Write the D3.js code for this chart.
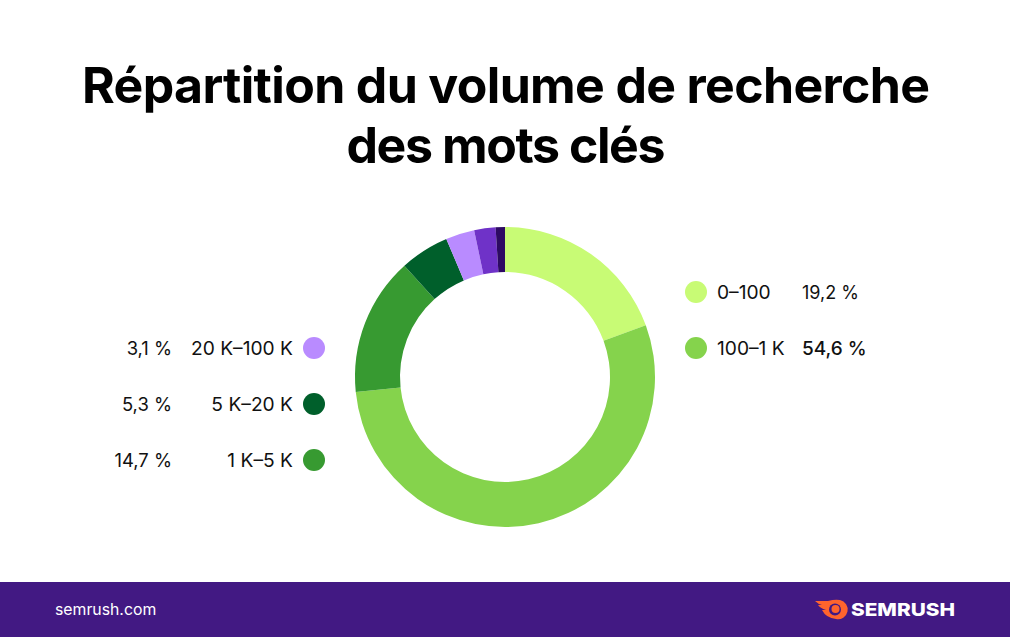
<!DOCTYPE html>
<html>
<head>
<meta charset="utf-8">
<script src="https://cdn.jsdelivr.net/npm/d3@7"></script>
<style>
  html, body { margin: 0; padding: 0; background: #fff; }
  text { font-family: Inter, sans-serif; }
</style>
</head>
<body>
<svg id="chart" width="1010" height="637" style="display:block"></svg>
<script>
const titleLines = ['Répartition du volume de recherche', 'des mots clés'];
const categories = ['0–100', '100–1 K', '1 K–5 K', '5 K–20 K', '20 K–100 K', '100 K–1 M', '1 M+'];
// arc sizes as measured on the ring, they differ slightly from the printed labels
const shares = [19.4, 54.0, 14.9, 5.3, 3.1, 2.3, 1.0];
const colors = ['#c8fb75', '#85d34c', '#379a31', '#005f2b', '#b98bff', '#6f32c8', '#2d0a63'];
const rightLegend = ['0–100', '100–1 K'];
const leftLegend = ['20 K–100 K', '5 K–20 K', '1 K–5 K'];
const shareLabels = ['19,2 %', '54,6 %', '14,7 %', '5,3 %', '3,1 %'];

const svg = d3.select('#chart');

svg.selectAll('text.title')
  .data(titleLines)
  .enter().append('text')
  .attr('class', 'title')
  .attr('x', 506)
  .attr('y', (d, i) => 103 + i * 60)
  .attr('text-anchor', 'middle')
  .attr('font-size', 50)
  .attr('font-weight', 700)
  .attr('textLength', (d, i) => i === 0 ? 848 : 319)
  .attr('lengthAdjust', 'spacing')
  .attr('fill', '#000')
  .text(d => d);

// donut
const pie = d3.pie().sort(null).value(d => d)(shares);
const arc = d3.arc().innerRadius(105).outerRadius(150);

svg.append('g')
  .attr('transform', 'translate(505,377)')
  .selectAll('path')
  .data(pie)
  .enter().append('path')
  .attr('d', arc)
  .attr('fill', (d, i) => colors[i]);

// legends
const rowY = d3.scalePoint().domain([0, 1, 2]).range([348, 460]);

const right = svg.selectAll('g.right')
  .data(rightLegend)
  .enter().append('g')
  .attr('class', 'right')
  .attr('transform', (d, i) => `translate(0,${rowY(i) - 56})`);
right.append('circle').attr('cx', 696).attr('r', 11)
  .attr('fill', d => colors[categories.indexOf(d)]);
right.append('text').attr('x', 717).attr('y', 6.5).attr('font-size', 19.2)
  .attr('fill', '#111').text(d => d);
right.append('text').attr('x', 802).attr('y', 6.5)
  .attr('font-size', (d, i) => i === 1 ? 19 : 18)
  .attr('font-weight', (d, i) => i === 1 ? 500 : 400)
  .attr('fill', '#111').text(d => shareLabels[categories.indexOf(d)]);

const left = svg.selectAll('g.left')
  .data(leftLegend)
  .enter().append('g')
  .attr('class', 'left')
  .attr('transform', (d, i) => `translate(0,${rowY(i)})`);
left.append('circle').attr('cx', 314).attr('r', 11)
  .attr('fill', d => colors[categories.indexOf(d)]);
left.append('text').attr('x', 293).attr('y', 6.5).attr('font-size', 19.2)
  .attr('text-anchor', 'end').attr('fill', '#111').text(d => d);
left.append('text').attr('x', 172).attr('y', 6.5).attr('font-size', 18.4)
  .attr('text-anchor', 'end').attr('fill', '#111')
  .text(d => shareLabels[categories.indexOf(d)]);

// footer
svg.append('rect').attr('x', 0).attr('y', 582).attr('width', 1010).attr('height', 55).attr('fill', '#421983');
svg.append('text').attr('x', 55).attr('y', 615).attr('font-size', 15.8)
  .attr('fill', '#fff').text('semrush.com');

const logo = svg.append('g').attr('transform', 'translate(815,601)');
logo.append('path').attr('fill', '#ff642d')
  .attr('d', 'M0,0 L13,0 Q20,-2 25,-1 A9.5,9.5 0 1 1 21,18 Q11,17 7,9 L11,9 Q5,7 3,4 L7,4 Q3,3 0,0 Z');
logo.append('circle').attr('cx', 20).attr('cy', 8.5).attr('r', 6).attr('fill', '#421983');
logo.append('circle').attr('cx', 20.5).attr('cy', 8).attr('r', 4).attr('fill', '#ff642d');
svg.append('text').attr('x', 851).attr('y', 616).attr('font-size', 18)
  .attr('font-weight', 800).attr('textLength', 104).attr('lengthAdjust', 'spacingAndGlyphs')
  .attr('fill', '#fff').text('SEMRUSH');
</script>
</body>
</html>
